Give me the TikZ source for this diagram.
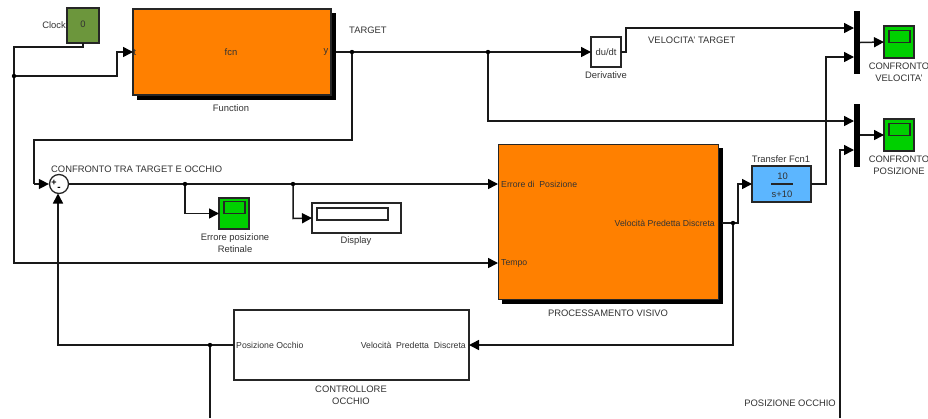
\documentclass[tikz,border=0pt]{standalone}
\usepackage{fontspec}
\setmainfont{Liberation Sans}
\usetikzlibrary{arrows.meta,calc}
\definecolor{orangeblk}{RGB}{255,128,0}
\definecolor{clockgreen}{RGB}{108,150,60}
\definecolor{scopegreen}{RGB}{0,208,0}
\definecolor{tfblue}{RGB}{92,182,255}
\definecolor{txt}{RGB}{50,50,50}
\tikzset{
  x=1pt,y=-1pt,
  blk/.style={draw=black!85,line width=1.3pt,inner sep=0pt,outer sep=0pt,anchor=center},
  lbl/.style={font=\fontsize{9.4}{11.6}\selectfont,text=txt,inner sep=0pt,align=center},
  small/.style={font=\fontsize{8.7}{10}\selectfont,text=black!80,inner sep=0pt},
  wire/.style={draw=black!90,line width=1.5pt},
  arr/.style={wire,-{Triangle[length=10pt,width=10pt,color=black]}},
  dotj/.style={circle,fill=black,inner sep=0pt,minimum size=4.4pt,outer sep=0pt},
  scopeb/.style={blk,fill=scopegreen,minimum width=30pt,minimum height=32pt},
  scopei/.style={draw=black!85,line width=1.3pt,fill=scopegreen,inner sep=0pt,minimum width=21pt,minimum height=12pt},
  muxb/.style={fill=black,inner sep=0pt,minimum width=6pt,minimum height=63pt},
}
\begin{document}
\begin{tikzpicture}
\useasboundingbox (0,0) rectangle (928,418);
\clip (0,0) rectangle (928,418);
% shadows
\fill[black] (137,13) rectangle (336,100);
\fill[black] (502,148) rectangle (722.5,304);
% blocks
\node[blk,fill=clockgreen,minimum width=32pt,minimum height=35pt] (clock) at (83,25.5) {};
\node[lbl,anchor=center] (clockv) at (83,24.5) {0};
\node[lbl,anchor=east] (clockl) at (66,25) {Clock};
\node[blk,fill=orangeblk,line width=2pt,minimum width=198pt,minimum height=86pt] (fun) at (232,52) {};
\node[lbl] (funt) at (231,52) {fcn};
\node[lbl] (funin) at (135,52) {t};
\node[lbl] (funout) at (326,52) {y};
\node[lbl] (funl) at (231,108) {Function};
\node[lbl,anchor=west] (target) at (349,30) {TARGET};
\node[blk,fill=white,minimum width=30pt,minimum height=30pt] (der) at (606,52) {};
\node[lbl] (dert) at (606,52) {du/dt};
\node[lbl] (derl) at (606,75) {Derivative};
\node[lbl,anchor=west] (velt) at (648,40) {VELOCITA' TARGET};
\node[muxb] (mux1) at (857,42.5) {};
\node[muxb] (mux2) at (857,135) {};
\node[scopeb] (sc1) at (899,42) {};
\node[scopei] (sc1i) at (899.5,36.5) {};
\node[lbl] (sc1l) at (899,72) {CONFRONTO\\VELOCITA'};
\node[scopeb] (sc2) at (899,135) {};
\node[scopei] (sc2i) at (899.5,129.5) {};
\node[lbl] (sc2l) at (899,165) {CONFRONTO\\POSIZIONE};
\node[circle,draw=black!85,fill=white,line width=1.3pt,inner sep=0pt,minimum size=19pt] (sum) at (59,184) {};
\node[font=\fontsize{9}{9}\selectfont\bfseries,inner sep=0pt] (sumplus) at (54,183) {+};
\node[font=\fontsize{10}{10}\selectfont\bfseries,inner sep=0pt] (summinus) at (59,189) {-};
\node[lbl,anchor=west] (conf) at (51,169) {CONFRONTO TRA TARGET E OCCHIO};
\node[scopeb,minimum height=31pt] (sc3) at (234,213.5) {};
\node[scopei] (sc3i) at (234.5,207.5) {};
\node[lbl] (sc3l) at (235,243) {Errore posizione\\Retinale};
\node[blk,fill=white,minimum width=89pt,minimum height=30pt] (disp) at (356.5,218) {};
\node[draw=black!85,line width=1.3pt,fill=white,inner sep=0pt,minimum width=71pt,minimum height=12pt] (dispi) at (352.5,214) {};
\node[lbl] (displ) at (356,241) {Display};
\node[blk,fill=orangeblk,line width=1.5pt,minimum width=220pt,minimum height=155pt] (proc) at (608.5,222) {};
\node[small,anchor=west] (pin1) at (501,184) {Errore di\ \ Posizione};
\node[small,anchor=west] (pin2) at (501,263) {Tempo};
\node[small,anchor=east] (pout) at (715,223.5) {Velocità Predetta Discreta};
\node[lbl] (procl) at (608,313) {PROCESSAMENTO VISIVO};
\node[blk,fill=tfblue,minimum width=59pt,minimum height=36pt] (tf) at (781.5,184) {};
\node[lbl] (tfl) at (781,159) {Transfer Fcn1};
\node[lbl] (tfn) at (782.5,176.5) {10};
\node[lbl] (tfd) at (782,194) {s+10};
\draw[line width=1.3pt,draw=black!85] (771,184) -- (793,184);
\node[blk,fill=white,minimum width=235pt,minimum height=70pt] (ctl) at (351.5,345) {};
\node[small,anchor=west] (cin) at (236,345) {Posizione Occhio};
\node[small,anchor=east] (cout) at (466,345) {Velocità\ \ Predetta\ \ Discreta};
\node[lbl] (ctll) at (351,395) {CONTROLLORE\\OCCHIO};
\node[lbl,anchor=east] (posl) at (836,403) {POSIZIONE OCCHIO};
% ports and junctions
\coordinate (funo) at (336,52);
\coordinate (j1) at (352,52);
\coordinate (j2) at (488,52);
\coordinate (j3) at (14,76);
\coordinate (j4) at (185,184);
\coordinate (j5) at (293,184);
\coordinate (j6) at (210,345);
\coordinate (j7) at (733,223);
\coordinate (proci1) at (498,184);
\coordinate (proci2) at (498,263);
\coordinate (funi) at (133,52);
\coordinate (proco) at (722,223);
\coordinate (m1a) at (854,28);
\coordinate (m1b) at (854,57);
\coordinate (m2a) at (854,121);
\coordinate (m2b) at (854,150);
\coordinate (botA) at (210,418);
\coordinate (botB) at (840,418);
% wires
\draw[wire] (clock.south) -- (83,47) -- (14,47) -- (j3);
\draw[arr] (j3) -- (14,263) -- (proci2);
\draw[arr] (j3) -- (117,76) -- (117,52) -- (funi);
\draw[arr] (funo) -- (der.west);
\draw[wire] (j1) -- (352,140) -- (34,140) -- (34,184);
\draw[arr] (34,184) -- (sum.west);
\draw[arr] (sum.east) -- (proci1);
\draw[arr] (j4) -- (185,213.5) -- (sc3.west);
\draw[arr] (j5) -- (293,218.5) -- (disp.west);
\draw[arr] (ctl.west) -- (58,345) -- (58,193.5);
\draw[wire] (j6) -- (botA);
\draw[arr] (j2) -- (488,121) -- (m2a);
\draw[arr] (der.east) -- (626,52) -- (626,28) -- (m1a);
\draw[arr] (tf.east) -- (826,184) -- (826,57) -- (m1b);
\draw[arr] (botB) -- (840,150) -- (m2b);
\draw[arr] (mux1.east) -- (sc1.west);
\draw[arr] (mux2.east) -- (sc2.west);
\draw[arr] (proco) -- (738,223) -- (738,184) -- (tf.west);
\draw[arr] (j7) -- (733,345) -- (ctl.east);
% junction dots, on top of the wires
\foreach \j in {j1,j2,j3,j4,j5,j6,j7} \node[dotj] at (\j) {};
\end{tikzpicture}
\end{document}
